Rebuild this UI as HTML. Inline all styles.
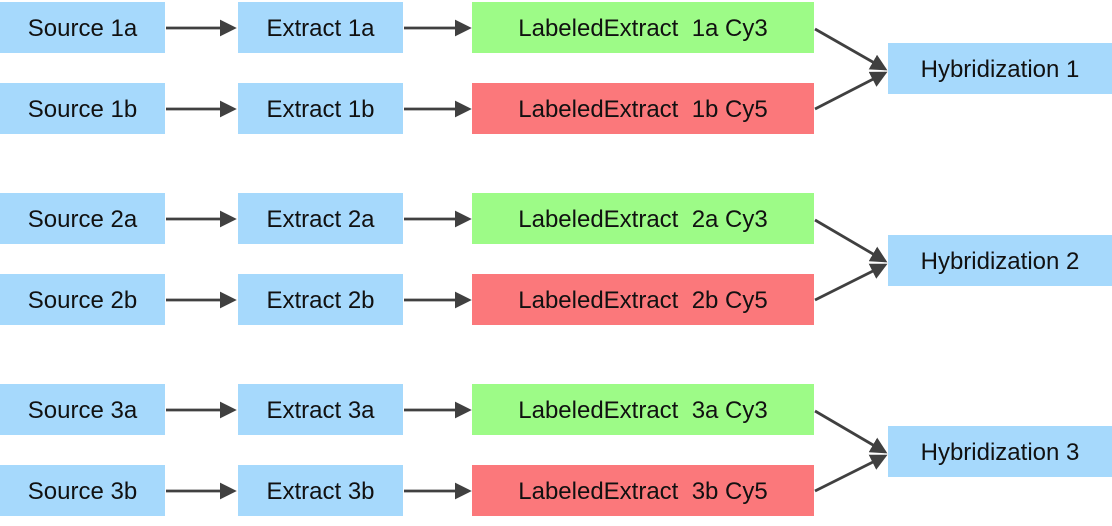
<!DOCTYPE html>
<html><head><style>
body{margin:0;width:1112px;height:526px;background:#fff;position:relative;overflow:hidden;font-family:"Liberation Sans",sans-serif}
.b{position:absolute;height:51px;line-height:53px;text-align:center;font-size:24px;color:#111;white-space:nowrap}
.s{left:0;width:165px;background:#a6d9fc}
.e{left:238px;width:165px;background:#a6d9fc}
.g{left:472px;width:342px;background:#9dfb87}
.r{left:472px;width:342px;background:#fb787b}
.h{left:888px;width:224px;background:#a6d9fc}
svg{position:absolute;left:0;top:0}
</style></head><body>
<div class="b s" style="top:2px">Source 1a</div>
<div class="b e" style="top:2px">Extract 1a</div>
<div class="b g" style="top:2px">LabeledExtract&nbsp; 1a Cy3</div>
<div class="b s" style="top:83px">Source 1b</div>
<div class="b e" style="top:83px">Extract 1b</div>
<div class="b r" style="top:83px">LabeledExtract&nbsp; 1b Cy5</div>
<div class="b h" style="top:43px">Hybridization 1</div>

<div class="b s" style="top:193px">Source 2a</div>
<div class="b e" style="top:193px">Extract 2a</div>
<div class="b g" style="top:193px">LabeledExtract&nbsp; 2a Cy3</div>
<div class="b s" style="top:274px">Source 2b</div>
<div class="b e" style="top:274px">Extract 2b</div>
<div class="b r" style="top:274px">LabeledExtract&nbsp; 2b Cy5</div>
<div class="b h" style="top:235px">Hybridization 2</div>

<div class="b s" style="top:384px">Source 3a</div>
<div class="b e" style="top:384px">Extract 3a</div>
<div class="b g" style="top:384px">LabeledExtract&nbsp; 3a Cy3</div>
<div class="b s" style="top:465px">Source 3b</div>
<div class="b e" style="top:465px">Extract 3b</div>
<div class="b r" style="top:465px">LabeledExtract&nbsp; 3b Cy5</div>
<div class="b h" style="top:426px">Hybridization 3</div>

<svg width="1112" height="526">
<defs><marker id="a" markerWidth="6" markerHeight="6" refX="5" refY="3" orient="auto" markerUnits="strokeWidth"><path d="M0,0L6,3L0,6z" fill="#404040"/></marker></defs>
<g stroke="#404040" stroke-width="2.8" marker-end="url(#a)" fill="none">
<line x1="166" y1="28" x2="234" y2="28"/><line x1="404" y1="28" x2="469" y2="28"/>
<line x1="166" y1="109" x2="234" y2="109"/><line x1="404" y1="109" x2="469" y2="109"/>
<line x1="815" y1="29" x2="885" y2="69"/><line x1="815" y1="109" x2="885" y2="73"/>
<line x1="166" y1="219" x2="234" y2="219"/><line x1="404" y1="219" x2="469" y2="219"/>
<line x1="166" y1="300" x2="234" y2="300"/><line x1="404" y1="300" x2="469" y2="300"/>
<line x1="815" y1="220" x2="885" y2="261"/><line x1="815" y1="300" x2="885" y2="265"/>
<line x1="166" y1="410" x2="234" y2="410"/><line x1="404" y1="410" x2="469" y2="410"/>
<line x1="166" y1="491" x2="234" y2="491"/><line x1="404" y1="491" x2="469" y2="491"/>
<line x1="815" y1="411" x2="885" y2="452"/><line x1="815" y1="491" x2="885" y2="456"/>
</g></svg>
</body></html>
